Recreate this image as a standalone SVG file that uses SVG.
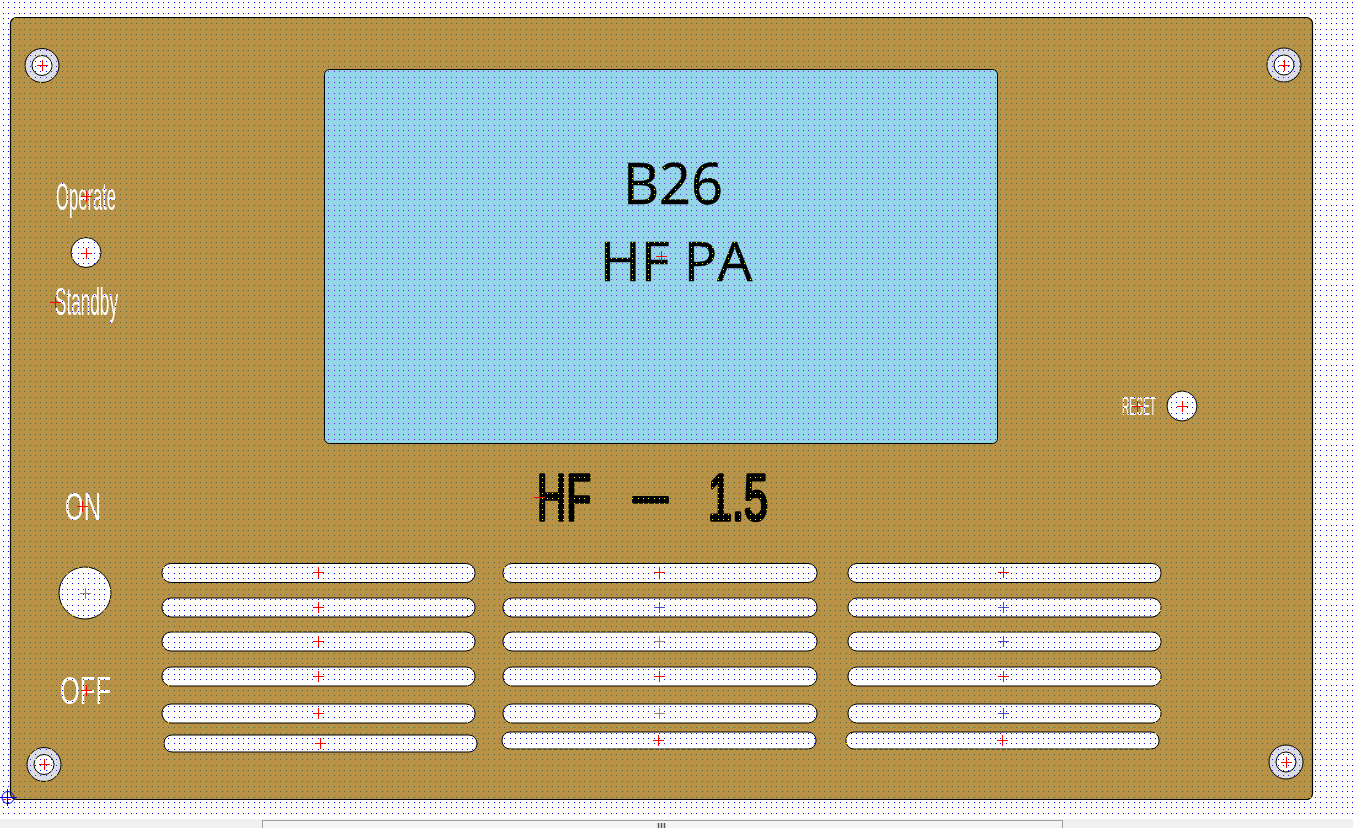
<svg xmlns="http://www.w3.org/2000/svg" width="1353" height="828" viewBox="0 0 1353 828">
<style>
.panel{fill:#b89247;stroke:#000;stroke-width:1.2}
.display{fill:#94d6e7;stroke:#000;stroke-width:1}
.slot{fill:#fff;stroke:#000;stroke-width:1}
.hole{fill:#fff;stroke:#000;stroke-width:1}
.ring{fill:#dcdce4;stroke:#000;stroke-width:1}
.lbl{font-family:"Liberation Sans",Arial,sans-serif;fill:#fff}
.big{font-family:"Open Sans","Noto Sans",sans-serif;fill:#000;stroke:#000;stroke-width:.6}
.hf{font-family:"Liberation Sans",Arial,sans-serif;fill:#000;stroke:#000;stroke-width:3.5;stroke-linejoin:round}
</style>
<defs>
<pattern id="dots" width="16" height="16" patternUnits="userSpaceOnUse" x="3" y="2">
<g fill="#ffff00">
<rect x="0" y="0" width="1" height="1"/><rect x="5" y="0" width="1" height="1"/><rect x="11" y="0" width="1" height="1"/>
<rect x="0" y="5" width="1" height="1"/><rect x="5" y="5" width="1" height="1"/><rect x="11" y="5" width="1" height="1"/>
<rect x="0" y="11" width="1" height="1"/><rect x="5" y="11" width="1" height="1"/><rect x="11" y="11" width="1" height="1"/>
</g>
</pattern>
<path id="xr" d="M-5.500.5H5.500M.5-5.500V5.500" fill="none" stroke="#f00" stroke-width="1" shape-rendering="crispEdges"/>
<path id="xb" d="M-5.500.5H5.500M.5-5.500V5.500" fill="none" stroke="#4a4ac0" stroke-width="1" shape-rendering="crispEdges"/>
<path id="xg" d="M-5.500.5H5.500M.5-5.500V5.500" fill="none" stroke="#a08070" stroke-width="1" shape-rendering="crispEdges"/>
</defs>
<rect width="1353" height="828" fill="#fff"/>
<g id="panel"><rect class="panel" x="10.500" y="17.500" width="1302" height="782" rx="6"/></g>
<g id="display"><rect class="display" x="324.500" y="69.500" width="673" height="374" rx="5"/>
<text class="big" x="673" y="204" font-size="56" text-anchor="middle">B26</text>
<text class="big" x="676" y="281" font-size="55.500" text-anchor="middle">HF PA</text></g>
<g id="mount-tl"><circle class="ring" cx="42" cy="65.500" r="17"/><circle class="hole" cx="42" cy="65.500" r="10"/></g>
<g id="mount-tr"><circle class="ring" cx="1284" cy="65" r="17"/><circle class="hole" cx="1284" cy="65" r="10"/></g>
<g id="mount-bl"><circle class="ring" cx="44" cy="764.500" r="17"/><circle class="hole" cx="44" cy="764.500" r="10"/></g>
<g id="mount-br"><circle class="ring" cx="1286" cy="762" r="17"/><circle class="hole" cx="1286" cy="762" r="10"/></g>
<g id="switch-operate"><text class="lbl" x="56" y="210" font-size="38" textLength="60" lengthAdjust="spacingAndGlyphs">Operate</text>
<circle class="hole" cx="86" cy="252.500" r="15"/>
<text class="lbl" x="55" y="315" font-size="38" textLength="63" lengthAdjust="spacingAndGlyphs">Standby</text></g>
<g id="switch-reset"><text class="lbl" x="1122" y="415" font-size="26.500" textLength="34" lengthAdjust="spacingAndGlyphs">RESET</text>
<circle class="hole" cx="1182" cy="406" r="15"/></g>
<g id="switch-power"><text class="lbl" x="65" y="520" font-size="38" textLength="36" lengthAdjust="spacingAndGlyphs">ON</text>
<circle class="hole" cx="85" cy="593" r="26"/>
<text class="lbl" x="60" y="704" font-size="39" textLength="51" lengthAdjust="spacingAndGlyphs">OFF</text></g>
<g id="title">
<text class="hf" x="537" y="520" font-size="64" textLength="54" lengthAdjust="spacingAndGlyphs">HF</text>
<text class="hf" x="633" y="516" font-size="64" textLength="35" lengthAdjust="spacingAndGlyphs">—</text>
<text class="hf" x="708" y="520" font-size="64" textLength="60" lengthAdjust="spacingAndGlyphs">1.5</text>
</g>
<g id="slots">
<rect class="slot" x="162" y="563.500" width="313" height="19" rx="9"/>
<rect class="slot" x="162" y="598" width="313" height="19" rx="9"/>
<rect class="slot" x="162" y="632" width="313" height="19" rx="9"/>
<rect class="slot" x="162" y="667" width="313" height="19" rx="9"/>
<rect class="slot" x="162" y="704" width="313" height="19" rx="9"/>
<rect class="slot" x="164" y="735" width="313" height="17" rx="8"/>
<rect class="slot" x="503" y="563.500" width="314" height="19" rx="9"/>
<rect class="slot" x="503" y="598" width="314" height="19" rx="9"/>
<rect class="slot" x="503" y="632" width="314" height="19" rx="9"/>
<rect class="slot" x="503" y="667" width="314" height="19" rx="9"/>
<rect class="slot" x="503" y="704" width="314" height="19" rx="9"/>
<rect class="slot" x="502" y="732" width="314" height="17" rx="8"/>
<rect class="slot" x="848" y="563.500" width="313" height="19" rx="9"/>
<rect class="slot" x="848" y="598" width="313" height="19" rx="9"/>
<rect class="slot" x="848" y="632" width="313" height="19" rx="9"/>
<rect class="slot" x="848" y="667" width="313" height="19" rx="9"/>
<rect class="slot" x="848" y="704" width="313" height="19" rx="9"/>
<rect class="slot" x="846" y="732" width="313" height="17" rx="8"/>
</g>
<rect id="grid" x="0" y="0" width="1353" height="818" fill="url(#dots)" style="mix-blend-mode:difference"/>
<g id="crosses">
<use href="#xr" x="42" y="65"/><use href="#xr" x="1284" y="65"/><use href="#xr" x="44" y="764"/><use href="#xr" x="1286" y="762"/>
<use href="#xr" x="86" y="196"/><use href="#xr" x="86" y="253"/><use href="#xr" x="55" y="302"/><use href="#xr" x="82" y="506"/><use href="#xg" x="85" y="593"/><use href="#xr" x="86" y="690"/>
<use href="#xr" x="1137" y="406"/><use href="#xr" x="1182" y="406"/><use href="#xr" x="661" y="256"/><use href="#xr" x="539" y="497"/>
<use href="#xr" x="318" y="572"/><use href="#xr" x="318" y="607"/><use href="#xr" x="318" y="641"/><use href="#xr" x="318" y="676"/><use href="#xr" x="318" y="713"/><use href="#xr" x="320" y="743"/>
<use href="#xr" x="659" y="572"/><use href="#xb" x="659" y="607"/><use href="#xg" x="659" y="641"/><use href="#xr" x="659" y="676"/><use href="#xg" x="659" y="713"/><use href="#xr" x="658" y="740"/>
<use href="#xr" x="1003" y="572"/><use href="#xb" x="1003" y="607"/><use href="#xb" x="1003" y="641"/><use href="#xr" x="1003" y="676"/><use href="#xb" x="1003" y="713"/><use href="#xr" x="1002" y="740"/>
</g>
<g id="origin" fill="none" stroke="#0000e0" stroke-width="1"><circle cx="8" cy="797.500" r="6"/><path d="M0 797.500H17M7.500 789V806"/><path d="M3 799.500H13" stroke="#f00" stroke-dasharray="3 2"/></g>
<g id="scrollbar"><rect x="0" y="819" width="1353" height="9" fill="#f0f0f0"/><rect x="262.500" y="820.500" width="800" height="9" fill="#f4f4f4" stroke="#a0a0a0"/><path d="M658.500 823V828M661.500 823V828M664.500 823V828" stroke="#555" stroke-width="1.500"/></g>
</svg>
